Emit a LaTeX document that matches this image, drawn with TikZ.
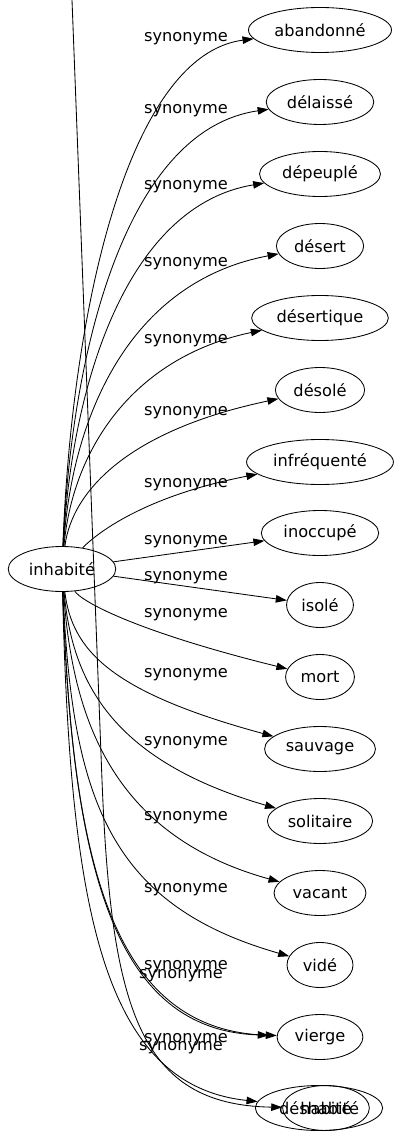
\documentclass[tikz,border=0pt]{standalone}
\usepackage{fontspec}
\setmainfont{DejaVu Sans}
\usetikzlibrary{shapes.geometric,arrows.meta}
\newcommand{\gvfont}{\fontsize{16.2pt}{19pt}\selectfont}
\tikzset{
  tn/.style={ellipse, draw, line width=0.85pt, minimum height=45pt, minimum width=66pt,
    inner xsep=5pt, inner ysep=0pt, font=\gvfont},
  lab/.style={anchor=base, inner sep=0pt, font=\gvfont},
  syn/.style={draw, line width=0.85pt, -{Triangle[length=11pt,width=7.5pt]}}
}
\begin{document}
\begin{tikzpicture}[x=1pt,y=-1pt]
\useasboundingbox (0,0) rectangle (400,1139);
% nodes
\node[tn] (inh) at (62,569) {inhabité};
\node[tn] (aban) at (320,30) {abandonné};
\node[tn] (dela) at (320,102) {délaissé};
\node[tn] (depe) at (320,174) {dépeuplé};
\node[tn] (dese) at (320,246) {désert};
\node[tn] (desq) at (320,318) {désertique};
\node[tn] (deso) at (320,390) {désolé};
\node[tn] (infr) at (320,462) {infréquenté};
\node[tn] (inoc) at (320,533) {inoccupé};
\node[tn] (isol) at (320,605) {isolé};
\node[tn] (mort) at (320,677) {mort};
\node[tn] (sauv) at (320,749) {sauvage};
\node[tn] (soli) at (320,821) {solitaire};
\node[tn] (vaca) at (320,893) {vacant};
\node[tn] (vide) at (320,965) {vidé};
\node[tn] (vier) at (320,1037) {vierge};
\node[tn] (dsha) at (319,1108) {déshabité};
\node[tn] (habi) at (326,1108) {habité};
\coordinate (topc) at (72,0);
% labels
\node[lab] (l1) at (186,42) {synonyme};
\node[lab] (l2) at (186,114) {synonyme};
\node[lab] (l3) at (186,190) {synonyme};
\node[lab] (l4) at (186,267) {synonyme};
\node[lab] (l5) at (186,343) {synonyme};
\node[lab] (l6) at (186,415) {synonyme};
\node[lab] (l7) at (186,487) {synonyme};
\node[lab] (l8) at (186,544) {synonyme};
\node[lab] (l9) at (186,580) {synonyme};
\node[lab] (l10) at (186,617) {synonyme};
\node[lab] (l11) at (186,677) {synonyme};
\node[lab] (l12) at (186,745) {synonyme};
\node[lab] (l13) at (186,820) {synonyme};
\node[lab] (l14) at (186,892) {synonyme};
\node[lab] (l15) at (186,969) {synonyme};
\node[lab] (l16) at (181,978) {synonyme};
\node[lab] (l17) at (186,1042) {synonyme};
\node[lab] (l18) at (181,1050) {synonyme};
% edges
\draw[syn] (inh) .. controls (72,303) and (130,55) .. (aban);
\draw[syn] (inh) .. controls (72,339) and (130,129) .. (dela);
\draw[syn] (inh) .. controls (72,377) and (130,205) .. (depe);
\draw[syn] (inh) .. controls (72,415) and (130,282) .. (dese);
\draw[syn] (inh) .. controls (72,453) and (130,358) .. (desq);
\draw[syn] (inh) .. controls (72,490) and (130,430) .. (deso);
\draw[syn] (inh) .. controls (100,530) and (150,495) .. (infr);
\draw[syn] (inh) -- (inoc);
\draw[syn] (inh) -- (isol);
\draw[syn] (inh) .. controls (80,600) and (130,630) .. (mort);
\draw[syn] (inh) .. controls (72,650) and (110,692) .. (sauv);
\draw[syn] (inh) .. controls (72,680) and (110,760) .. (soli);
\draw[syn] (inh) .. controls (72,715) and (110,835) .. (vaca);
\draw[syn] (inh) .. controls (72,800) and (110,905) .. (vide);
\draw[syn] (inh) .. controls (72,870) and (115,1030) .. (vier);
\draw[syn, shorten >=8pt] (inh) .. controls (72,870) and (115,1030) .. (vier);
\draw[syn] (inh) .. controls (70,900) and (100,1085) .. (dsha);
\draw[syn] (topc) -- (102,780) .. controls (111,1010) and (140,1105) .. (habi);
\end{tikzpicture}
\end{document}
